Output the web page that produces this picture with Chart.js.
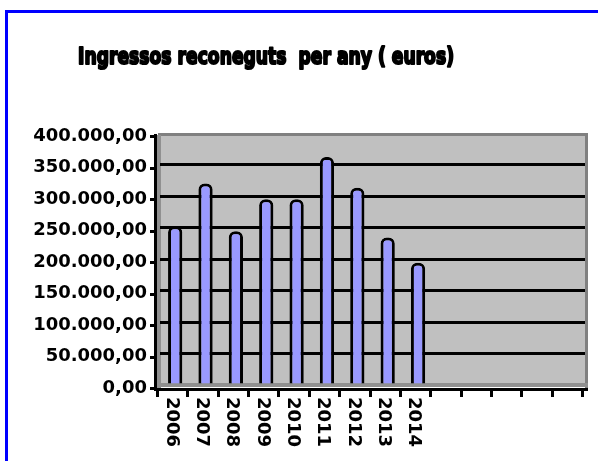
<!DOCTYPE html>
<html>
<head>
<meta charset="utf-8">
<script src="https://cdn.jsdelivr.net/npm/chart.js@4"></script>
<style>
html,body{margin:0;padding:0;background:#fff;}
#wrap{width:598px;height:461px;position:relative;}
</style>
</head>
<body>
<div id="wrap"><canvas id="c" width="598" height="461"></canvas></div>
<script>
const titleText = 'Ingressos reconeguts  per any ( euros)';
const categories = ['2006','2007','2008','2009','2010','2011','2012','2013','2014','','','','',''];
const values = [252000, 320000, 244000, 295000, 295000, 362000, 313000, 234000, 194000, null, null, null, null, null];
const yTickValues = [0, 50000, 100000, 150000, 200000, 250000, 300000, 350000, 400000];

function fmt(v){
  const s = String(Math.round(v)).replace(/\B(?=(\d{3})+(?!\d))/g, '.');
  return s + ',00';
}

const deco = {
  id: 'deco',
  beforeDraw(chart){
    const ctx = chart.ctx, a = chart.chartArea;
    ctx.save();
    ctx.fillStyle = '#fff';
    ctx.fillRect(0,0,chart.width,chart.height);
    ctx.fillStyle = '#0000ff';
    ctx.fillRect(5,10,3,chart.height-10);
    ctx.fillRect(5,10,chart.width-5,3);
    ctx.fillStyle = '#c0c0c0';
    ctx.fillRect(a.left, a.top, a.right-a.left, a.bottom-a.top);
    ctx.fillStyle = '#808080';
    ctx.fillRect(a.left-2, a.top, a.right-a.left+5, 3);
    ctx.fillRect(a.right, a.top, 3, a.bottom-a.top+4);
    ctx.fillStyle = '#909090';
    ctx.fillRect(a.left-3, a.top+2, 4, a.bottom-a.top+2);
    ctx.fillRect(a.left-3, a.bottom-2, a.right-a.left+6, 4);
    ctx.restore();
  },
  afterDraw(chart){
    const ctx = chart.ctx, a = chart.chartArea;
    const xs = chart.scales.x, ys = chart.scales.y;
    ctx.save();
    ctx.fillStyle = '#000';
    ctx.fillRect(a.left-6, ys.getPixelForValue(400000)+1, 3, ys.getPixelForValue(0)-ys.getPixelForValue(400000)+4);
    yTickValues.forEach(v => {
      const y = Math.round(ys.getPixelForValue(v)+3);
      ctx.fillRect(a.left-10, y-1, 5, 3);
    });
    const yAxis = Math.round(ys.getPixelForValue(0)+3);
    ctx.fillRect(a.left-6, yAxis, a.right-a.left+9, 3);
    for (let i = 0; i <= categories.length; i++){
      const x = Math.round(xs.getPixelForValue(i-0.5) - 3);
      ctx.fillRect(x-1, yAxis, 3, 9);
    }
    ctx.font = 'bold 18px "DejaVu Sans"';
    ctx.textAlign = 'left';
    ctx.textBaseline = 'middle';
    categories.forEach((lab, i) => {
      if (!lab) return;
      const x = xs.getPixelForTick(i) - 4;
      ctx.save();
      ctx.translate(x, yAxis + 9);
      ctx.rotate(Math.PI/2);
      ctx.fillText(lab, 0, 0);
      ctx.restore();
    });
    // title
    ctx.font = 'bold 23px "DejaVu Sans"';
    ctx.textAlign = 'center';
    ctx.textBaseline = 'middle';
    const w = ctx.measureText(titleText).width;
    const target = 376;
    ctx.save();
    ctx.translate(266, 58);
    ctx.scale(target/w, 1);
    ctx.lineWidth = 2.2;
    ctx.lineJoin = 'round';
    ctx.strokeStyle = '#000';
    ctx.strokeText(titleText, 0, 0);
    ctx.fillText(titleText, 0, 0);
    ctx.restore();
    ctx.restore();
  }
};

new Chart(document.getElementById('c'), {
  type: 'bar',
  data: {
    labels: categories,
    datasets: [{
      data: values,
      backgroundColor: '#9999ff',
      borderColor: '#000',
      borderWidth: 3,
      borderSkipped: 'bottom',
      borderRadius: {topLeft: 6, topRight: 6},
      barPercentage: 0.47,
      categoryPercentage: 1
    }]
  },
  options: {
    responsive: false,
    animation: false,
    events: [],
    layout: { padding: { top: 133, right: 13, left: 0, bottom: 0 } },
    plugins: { legend: { display: false }, tooltip: { enabled: false }, title: { display: false } },
    scales: {
      x: {
        offset: true,
        grid: { display: false },
        border: { display: false },
        ticks: { display: false },
        afterFit(s){ s.height = 76; }
      },
      y: {
        min: 0, max: 400000,
        afterBuildTicks(s){ s.ticks = yTickValues.map(v => ({value: v})); },
        grid: {
          drawTicks: false,
          lineWidth: 3,
          color: c => (c.tick && (c.tick.value === 0 || c.tick.value === 400000)) ? 'rgba(0,0,0,0)' : '#000'
        },
        border: { display: false },
        ticks: {
          padding: 13,
          labelOffset: 3,
          color: '#000',
          font: { family: '"DejaVu Sans"', weight: 'bold', size: 18 },
          callback: v => fmt(v)
        },
        afterFit(s){ s.width = 160; }
      }
    }
  },
  plugins: [deco]
});
</script>
</body>
</html>
